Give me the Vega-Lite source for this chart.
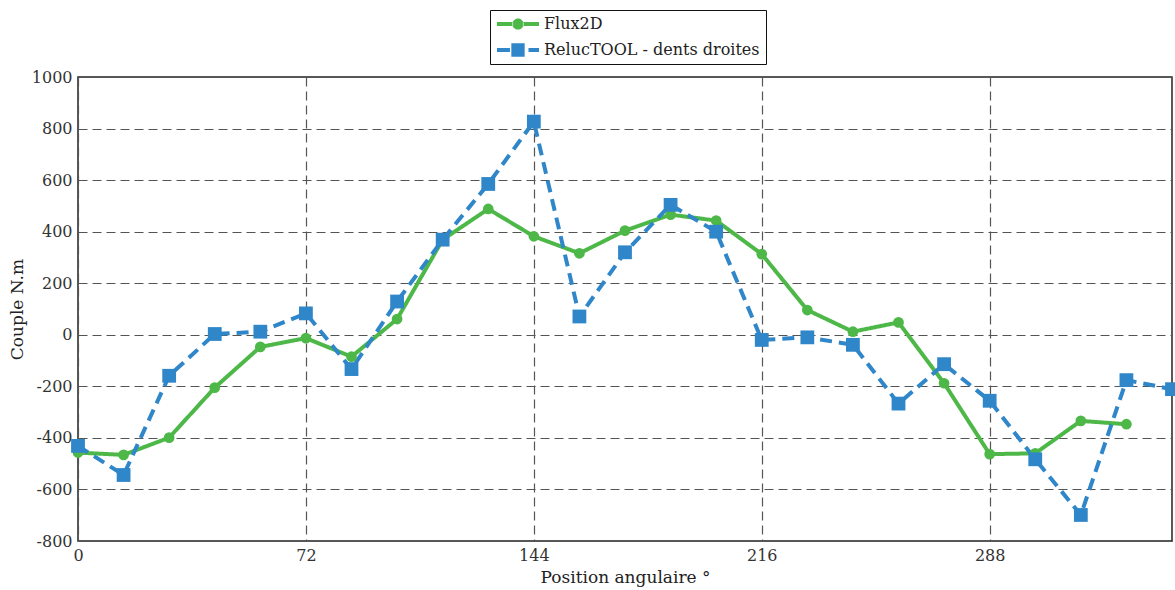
{
  "$schema": "https://vega.github.io/schema/vega-lite/v6.json",
  "width": 1094,
  "height": 464,
  "autosize": {"type": "none"},
  "padding": {"left": 78, "top": 77, "right": 3, "bottom": 49},
  "background": "white",
  "config": {
    "font": "DejaVu Serif",
    "view": {"stroke": "#222", "strokeWidth": 1.5},
    "axis": {
      "domain": false,
      "ticks": false,
      "grid": true,
      "gridColor": "#555",
      "gridDash": [9, 5],
      "gridWidth": 1.2,
      "labelFont": "DejaVu Serif",
      "labelFontSize": 16,
      "labelColor": "#333",
      "labelFlush": false,
      "labelExpr": "'' + datum.value",
      "titleFont": "DejaVu Serif",
      "titleFontSize": 17,
      "titleFontWeight": "normal",
      "titleColor": "#222"
    },
    "legend": {
      "title": null,
      "orient": "none",
      "legendX": 412,
      "legendY": -67,
      "padding": 6,
      "fillColor": "white",
      "strokeColor": "#111",
      "labelFont": "DejaVu Serif",
      "labelFontSize": 16,
      "labelColor": "#222",
      "labelLimit": 400,
      "symbolSize": 196,
      "symbolOffset": 14,
      "labelOffset": 18,
      "rowPadding": 10,
      "symbolOpacity": 1,
      "symbolStrokeWidth": 0
    }
  },
  "data": {
    "values": [
      {"angle": 0, "couple": -457, "series": "Flux2D"},
      {"angle": 14.4, "couple": -466, "series": "Flux2D"},
      {"angle": 28.8, "couple": -399, "series": "Flux2D"},
      {"angle": 43.2, "couple": -205, "series": "Flux2D"},
      {"angle": 57.6, "couple": -47, "series": "Flux2D"},
      {"angle": 72, "couple": -13, "series": "Flux2D"},
      {"angle": 86.4, "couple": -85, "series": "Flux2D"},
      {"angle": 100.8, "couple": 61, "series": "Flux2D"},
      {"angle": 115.2, "couple": 369, "series": "Flux2D"},
      {"angle": 129.6, "couple": 488, "series": "Flux2D"},
      {"angle": 144, "couple": 382, "series": "Flux2D"},
      {"angle": 158.4, "couple": 316, "series": "Flux2D"},
      {"angle": 172.8, "couple": 404, "series": "Flux2D"},
      {"angle": 187.2, "couple": 466, "series": "Flux2D"},
      {"angle": 201.6, "couple": 443, "series": "Flux2D"},
      {"angle": 216, "couple": 313, "series": "Flux2D"},
      {"angle": 230.4, "couple": 96, "series": "Flux2D"},
      {"angle": 244.8, "couple": 12, "series": "Flux2D"},
      {"angle": 259.2, "couple": 48, "series": "Flux2D"},
      {"angle": 273.6, "couple": -188, "series": "Flux2D"},
      {"angle": 288, "couple": -463, "series": "Flux2D"},
      {"angle": 302.4, "couple": -460, "series": "Flux2D"},
      {"angle": 316.8, "couple": -334, "series": "Flux2D"},
      {"angle": 331.2, "couple": -347, "series": "Flux2D"},
      {"angle": 0, "couple": -431, "series": "RelucTOOL - dents droites"},
      {"angle": 14.4, "couple": -544, "series": "RelucTOOL - dents droites"},
      {"angle": 28.8, "couple": -159, "series": "RelucTOOL - dents droites"},
      {"angle": 43.2, "couple": 3, "series": "RelucTOOL - dents droites"},
      {"angle": 57.6, "couple": 12, "series": "RelucTOOL - dents droites"},
      {"angle": 72, "couple": 83, "series": "RelucTOOL - dents droites"},
      {"angle": 86.4, "couple": -133, "series": "RelucTOOL - dents droites"},
      {"angle": 100.8, "couple": 129, "series": "RelucTOOL - dents droites"},
      {"angle": 115.2, "couple": 369, "series": "RelucTOOL - dents droites"},
      {"angle": 129.6, "couple": 585, "series": "RelucTOOL - dents droites"},
      {"angle": 144, "couple": 827, "series": "RelucTOOL - dents droites"},
      {"angle": 158.4, "couple": 71, "series": "RelucTOOL - dents droites"},
      {"angle": 172.8, "couple": 320, "series": "RelucTOOL - dents droites"},
      {"angle": 187.2, "couple": 504, "series": "RelucTOOL - dents droites"},
      {"angle": 201.6, "couple": 400, "series": "RelucTOOL - dents droites"},
      {"angle": 216, "couple": -20, "series": "RelucTOOL - dents droites"},
      {"angle": 230.4, "couple": -10, "series": "RelucTOOL - dents droites"},
      {"angle": 244.8, "couple": -39, "series": "RelucTOOL - dents droites"},
      {"angle": 259.2, "couple": -267, "series": "RelucTOOL - dents droites"},
      {"angle": 273.6, "couple": -114, "series": "RelucTOOL - dents droites"},
      {"angle": 288, "couple": -256, "series": "RelucTOOL - dents droites"},
      {"angle": 302.4, "couple": -483, "series": "RelucTOOL - dents droites"},
      {"angle": 316.8, "couple": -699, "series": "RelucTOOL - dents droites"},
      {"angle": 331.2, "couple": -176, "series": "RelucTOOL - dents droites"},
      {"angle": 345.6, "couple": -211, "series": "RelucTOOL - dents droites"}
    ]
  },
  "encoding": {
    "x": {
      "field": "angle",
      "type": "quantitative",
      "scale": {"domain": [0, 345.6], "nice": false, "zero": false},
      "axis": {"values": [0, 72, 144, 216, 288], "title": "Position angulaire °", "labelPadding": 6, "titlePadding": 6}
    },
    "y": {
      "field": "couple",
      "type": "quantitative",
      "scale": {"domain": [-800, 1000], "nice": false},
      "axis": {"values": [-800, -600, -400, -200, 0, 200, 400, 600, 800, 1000], "title": "Couple N.m", "labelPadding": 6, "titlePadding": 5}
    }
  },
  "resolve": {"scale": {"color": "independent", "shape": "independent"}, "legend": {"color": "independent", "shape": "independent"}},
  "layer": [
    {
      "mark": {"type": "line", "strokeWidth": 4},
      "encoding": {
        "strokeDash": {
          "field": "series",
          "type": "nominal",
          "scale": {"domain": ["Flux2D", "RelucTOOL - dents droites"], "range": [[1, 0], [12, 7]]},
          "legend": null
        },
        "color": {
          "field": "series",
          "type": "nominal",
          "scale": {"domain": ["Flux2D", "RelucTOOL - dents droites"], "range": ["#4db848", "#2f86c8"]},
          "legend": null
        }
      }
    },
    {
      "mark": {"type": "point", "filled": true, "opacity": 1},
      "encoding": {
        "color": {
          "field": "series",
          "type": "nominal",
          "scale": {"domain": ["Flux2D", "RelucTOOL - dents droites"], "range": ["#4db848", "#2f86c8"]},
          "legend": null
        },
        "shape": {
          "field": "series",
          "type": "nominal",
          "scale": {"domain": ["Flux2D", "RelucTOOL - dents droites"], "range": ["circle", "square"]},
          "legend": null
        },
        "size": {
          "field": "series",
          "type": "nominal",
          "scale": {"domain": ["Flux2D", "RelucTOOL - dents droites"], "range": [115, 190]},
          "legend": null
        }
      }
    },
    {
      "mark": {"type": "point", "filled": true, "opacity": 0},
      "encoding": {
        "color": {
          "field": "series",
          "type": "nominal",
          "scale": {"domain": ["Flux2D", "RelucTOOL - dents droites"], "range": ["#4db848", "#2f86c8"]},
          "legend": {"title": null}
        },
        "shape": {
          "field": "series",
          "type": "nominal",
          "scale": {
            "domain": ["Flux2D", "RelucTOOL - dents droites"],
            "range": [
              "M-3,-0.3H-0.7V0.3H-3Z M0.7,-0.3H3V0.3H0.7Z M-0.8,0A0.8,0.8 0 1,0 0.8,0A0.8,0.8 0 1,0 -0.8,0Z",
              "M-3,-0.3H-1.15V0.3H-3Z M-0.95,-0.95H0.95V0.95H-0.95Z M1.5,-0.3H3V0.3H1.5Z"
            ]
          },
          "legend": {"title": null}
        }
      }
    }
  ]
}
